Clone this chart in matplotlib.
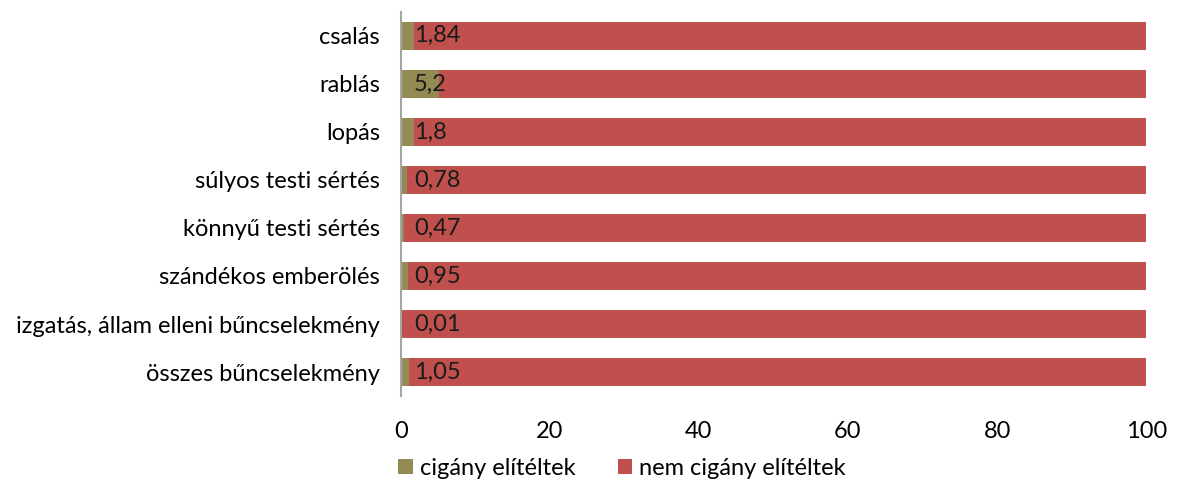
import numpy as np
import matplotlib.pyplot as plt

plt.rcParams['font.family'] = ['Lato', 'DejaVu Sans']

# categories from bottom to top
categories = ['összes bűncselekmény', 'izgatás, állam elleni bűncselekmény',
              'szándékos emberölés', 'könnyű testi sértés', 'súlyos testi sértés',
              'lopás', 'rablás', 'csalás']
cigany = [1.05, 0.01, 0.95, 0.47, 0.78, 1.8, 5.2, 1.84]
value_labels = ['1,05', '0,01', '0,95', '0,47', '0,78', '1,8', '5,2', '1,84']
nem_cigany = [100 - v for v in cigany]

fig = plt.figure(figsize=(11.89, 4.92), dpi=100)
ax = fig.add_axes([0.337, 0.195, 0.627, 0.781])

y = np.arange(len(categories))
ax.barh(y, cigany, height=0.58, color='#948A54', label='cigány elítéltek')
ax.barh(y, nem_cigany, left=cigany, height=0.58, color='#C0504D', label='nem cigány elítéltek')

for yi, lab in zip(y, value_labels):
    ax.text(1.8, yi, lab, ha='left', va='center', fontsize=17, color='#1a1a1a')

ax.set_xlim(0, 100)
ax.set_ylim(-0.5, len(categories) - 0.5)
ax.set_yticks(y)
ax.set_yticklabels(categories, fontsize=17)
ax.set_xticks([0, 20, 40, 60, 80, 100])
ax.tick_params(axis='x', labelsize=17, length=0, pad=18)
ax.tick_params(axis='y', length=0, pad=15)
for s in ['top', 'right', 'bottom']:
    ax.spines[s].set_visible(False)
ax.spines['left'].set_color('#a6a6a6')
ax.spines['left'].set_linewidth(1.5)

ax.legend(loc='upper center', bbox_to_anchor=(0.297, -0.105),
          ncol=2, frameon=False, fontsize=17, handlelength=0.6, handleheight=0.6,
          handletextpad=0.3, columnspacing=1.8)

fig.savefig('out.png', dpi=100)
